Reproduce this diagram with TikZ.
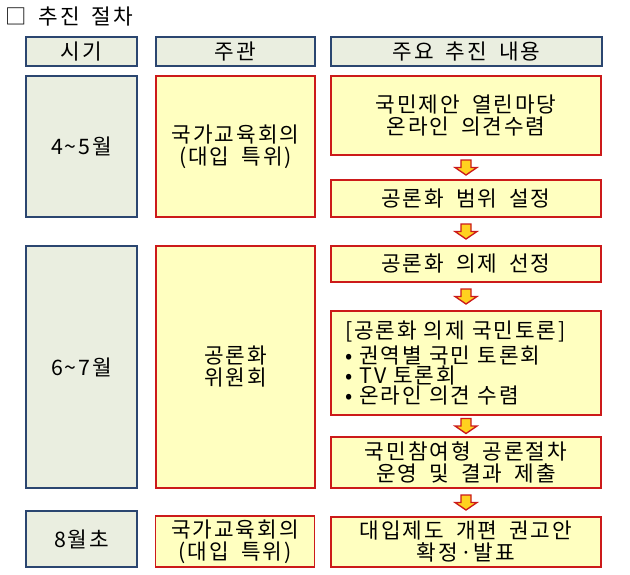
\documentclass[tikz,border=0pt]{standalone}
\usepackage{fontspec}
\setmainfont{Noto Sans CJK KR}[LetterSpace=9,WordSpace=1.8]
\usetikzlibrary{calc}
\definecolor{hdrfill}{HTML}{EAEEE0}
\definecolor{hdrline}{HTML}{2B4670}
\definecolor{boxfill}{HTML}{FFFFC0}
\definecolor{boxline}{HTML}{CC1A1A}
\definecolor{arrfill}{HTML}{FFD21F}
\begin{document}
\begin{tikzpicture}[x=0.75pt,y=-0.75pt,
    txt/.style={font=\fontsize{16}{16.5}\selectfont,align=center,inner sep=0pt},
    sz/.style 2 args={minimum width=#1*0.75pt,minimum height=#2*0.75pt},
    hdr/.style={txt,draw=hdrline,fill=hdrfill,line width=1.4pt},
    box/.style={txt,draw=boxline,fill=boxfill,line width=1.4pt},
    darr/.pic={\draw[boxline,fill=arrfill,line width=1pt,line join=miter]
        (-5,-7.5) -- (5,-7.5) -- (5,0) -- (11,0) -- (0,7.5) -- (-11,0) -- (-5,0) -- cycle;}]
    \useasboundingbox (0,0) rectangle (630,574);
    \node[anchor=west,font=\fontsize{16}{18}\selectfont,inner sep=0pt] (ttl) at (5,17) {□ 추진 절차};
    \node[hdr,sz={111}{29}] (h1) at (81.5,51.5) {시기};
    \node[hdr,sz={159}{29}] (h2) at (235.5,51.5) {주관};
    \node[hdr,sz={271}{29}] (h3) at (466.5,51.5) {주요 추진 내용};
    \node[hdr,sz={111}{141}] (t1) at (81.5,146.5) {4\textasciitilde5월};
    \node[box,sz={159}{141}] (o1) at (235.5,146.5) {국가교육회의\\(대입 특위)};
    \node[box,sz={270}{79}] (c1) at (466,115.5) {국민제안 열린마당\\온라인 의견수렴};
    \node[box,sz={270}{37}] (c2) at (466,198.5) {공론화 범위 설정};
    \node[hdr,sz={111}{242}] (t2) at (81.5,367) {6\textasciitilde7월};
    \node[box,sz={159}{242}] (o2) at (235.5,367) {공론화\\위원회};
    \node[box,sz={270}{36}] (c3) at (466,264) {공론화 의제 선정};
    \node[box,sz={270}{104},align=left,text width=242*0.75pt,
        font=\fontsize{16}{15.2}\selectfont] (c4) at (466,363)
        {[공론화 의제 국민토론]\\[2pt]• 권역별 국민 토론회\\• TV 토론회\\• 온라인 의견 수렴};
    \node[box,sz={270}{51}] (c5) at (466,462.5) {국민참여형 공론절차\\운영 및 결과 제출};
    \node[hdr,sz={111}{56}] (t3) at (81.5,539) {8월초};
    \node[box,sz={159}{51}] (o3) at (235,541.5) {국가교육회의\\(대입 특위)};
    \node[box,sz={270}{50}] (c6) at (466,542) {대입제도 개편 권고안\\확정·발표};
    \pic at ($(c1.south)!.5!(c2.north)$) {darr};
    \pic at ($(c2.south)!.5!(c3.north)$) {darr};
    \pic at ($(c3.south)!.5!(c4.north)$) {darr};
    \pic at ($(c4.south)!.5!(c5.north)$) {darr};
    \pic at ($(c5.south)!.5!(c6.north)$) {darr};
\end{tikzpicture}
\end{document}
